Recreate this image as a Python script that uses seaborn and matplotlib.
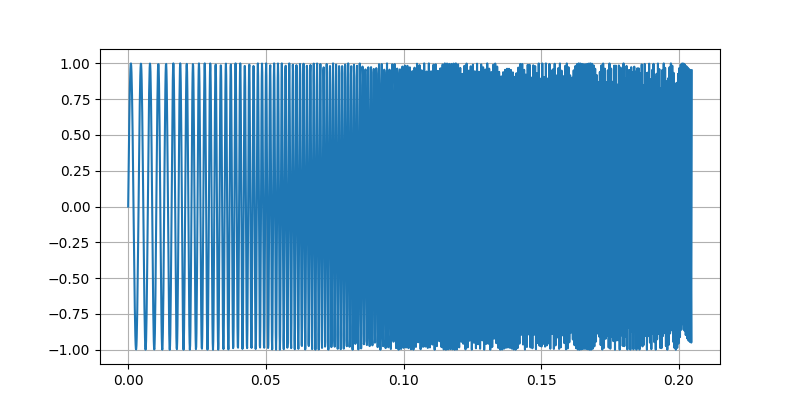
import numpy as np
import matplotlib
matplotlib.use('Agg')
import matplotlib.pyplot as plt
import seaborn as sns

# Linear chirp, values
SAMPLE_RATE = 10000      # Hz
N_SAMPLES = 2048
F_START = 250.0          # Hz at t = 0
F_END = 2000.0           # Hz at the end of the record

t = np.arange(N_SAMPLES) / SAMPLE_RATE
duration = N_SAMPLES / SAMPLE_RATE
rate = (F_END - F_START) / duration
signal = np.sin(2 * np.pi * (F_START * t + 0.5 * rate * t ** 2))

fig, ax = plt.subplots(figsize=(8, 4.09), dpi=100)
sns.lineplot(x=t, y=signal, ax=ax, color='#1f77b4', linewidth=1.5,
             estimator=None, sort=False)
ax.grid(True)
ax.set_yticks([-1.0, -0.75, -0.5, -0.25, 0.0, 0.25, 0.5, 0.75, 1.0])
fig.savefig('out.png', dpi=100)
